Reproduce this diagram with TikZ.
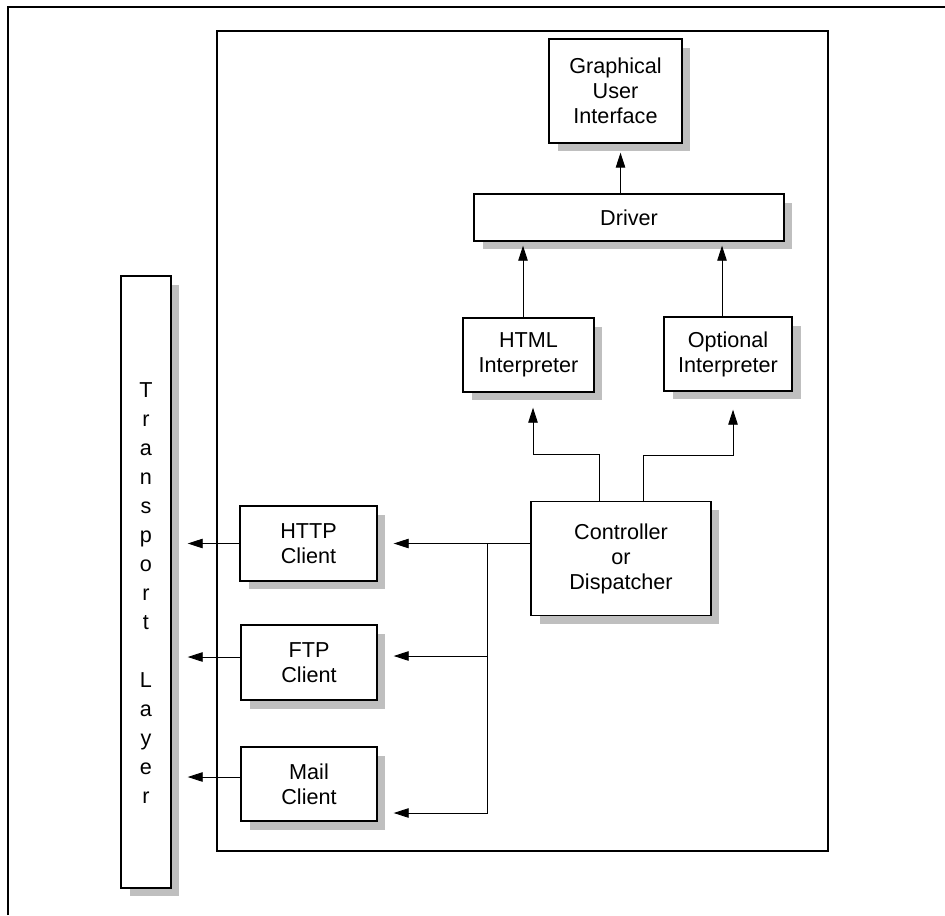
\documentclass[tikz,border=0pt]{standalone}
\usepackage{fontspec}
\setmainfont{Liberation Sans}
\usetikzlibrary{arrows.meta,shadows}

\tikzset{
  box/.style={draw, line width=0.8pt, fill=white, align=center, inner sep=0pt,
    font=\fontsize{12.3pt}{14.2pt}\selectfont,
    drop shadow={shadow xshift=0.17cm, shadow yshift=-0.17cm, fill=black!25, opacity=1}},
  flow/.style={line width=0.5pt, -{Triangle[length=0.3cm,width=0.19cm]}},
}

\begin{document}
\begin{tikzpicture}[x=0.02cm, y=-0.02cm]
  % Rahmen
  \useasboundingbox (0,0) rectangle (945,915);
  \draw[line width=0.7pt] (8,915) -- (8,7) -- (945,7);
  \draw[line width=0.8pt] (217,31) rectangle (828,851);

  % Bausteine
  \node[box, minimum width=2.66cm, minimum height=2.08cm] (gui) at (615.5,91) {Graphical\\User\\Interface};
  \node[box, minimum width=6.2cm, minimum height=0.94cm] (driver) at (629,217.5) {Driver};
  \node[box, minimum width=2.62cm, minimum height=1.48cm] (html) at (528.5,355) {HTML\\Interpreter};
  \node[box, minimum width=2.56cm, minimum height=1.48cm] (opt) at (728,354) {Optional\\Interpreter};
  \node[box, minimum width=3.6cm, minimum height=2.28cm] (ctrl) at (621,558.5) {Controller\\or\\Dispatcher};
  \node[box, minimum width=2.74cm, minimum height=1.5cm] (http) at (308.5,543.5) {HTTP\\Client};
  \node[box, minimum width=2.72cm, minimum height=1.5cm] (ftp) at (309,662.5) {FTP\\Client};
  \node[box, minimum width=2.72cm, minimum height=1.48cm] (mail) at (309,784) {Mail\\Client};
  \node[box, minimum width=1.0cm, minimum height=12.24cm] (transport) at (146,582) {};
  \node[align=center, inner sep=0pt, font=\fontsize{12.3pt}{16.5pt}\selectfont] (tlabel) at (146,593)
    {T\\r\\a\\n\\s\\p\\o\\r\\t\\[16.5pt]L\\a\\y\\e\\r};

  % Hilfspunkte
  \coordinate (lk) at (599,454);
  \coordinate (rk) at (643,455);
  \coordinate (bus) at (487,543.5);
  \coordinate (fe) at ([yshift=0.13cm]ftp.east);
  \coordinate (me) at ([yshift=-0.58cm]mail.east);
  \coordinate (fw) at ([yshift=0.11cm]ftp.west);
  \coordinate (mw) at ([yshift=0.14cm]mail.west);

  % Verbindungen nach oben
  \draw[flow, shorten >=0.18cm] ([xshift=0.1cm]gui.south |- driver.north) -- ([xshift=0.1cm]gui.south);
  \draw[flow, shorten >=0.08cm] ([xshift=-0.11cm]html.north) -- ([xshift=-0.11cm]html.north |- driver.south);
  \draw[flow, shorten >=0.08cm] ([xshift=-0.12cm]opt.north) -- ([xshift=-0.12cm]opt.north |- driver.south);
  \draw[flow, shorten >=0.3cm] (ctrl.north -| lk) -- (lk) -| ([xshift=0.09cm]html.south);
  \draw[flow, shorten >=0.36cm] (ctrl.north -| rk) -- (rk) -| ([xshift=0.1cm]opt.south);

  % Verbindungen zu den Clients
  \draw[flow, shorten >=0.32cm] (ctrl.west |- http) -- (http.east);
  \draw[flow, shorten >=0.32cm] (bus |- fe) -- (fe);
  \draw[flow, shorten >=0.32cm] (bus) |- (me);

  % Transportschicht
  \draw[flow, shorten >=0.32cm] (http.west) -- (http.west -| transport.east);
  \draw[flow, shorten >=0.32cm] (fw) -- (fw -| transport.east);
  \draw[flow, shorten >=0.32cm] (mw) -- (mw -| transport.east);
\end{tikzpicture}
\end{document}
